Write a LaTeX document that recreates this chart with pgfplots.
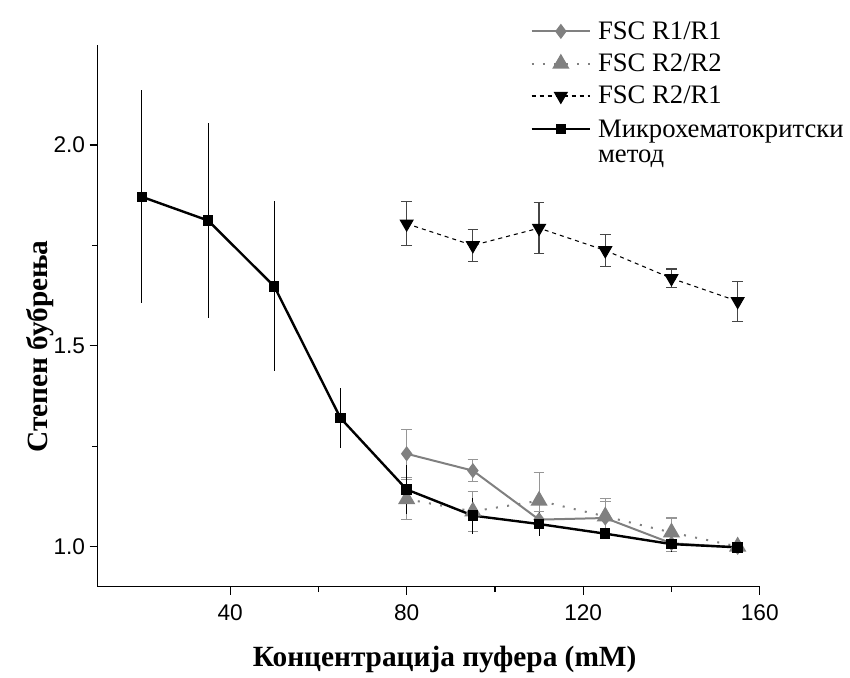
\documentclass[border=0pt]{standalone}
\usepackage{fontspec}
\setmainfont{Liberation Serif}
\newfontfamily\arial{Liberation Sans}
\usepackage{pgfplots}
\pgfplotsset{compat=1.18}
\definecolor{midGray}{RGB}{128,128,128}
\definecolor{barGray}{RGB}{150,150,150}
\definecolor{darkBar}{RGB}{70,70,70}

\begin{document}
\begin{tikzpicture}
  \begin{axis}[
      scale only axis,
      width=496.5pt, height=406.5pt,
      xmin=10, xmax=160, ymin=0.9, ymax=2.25,
      xtick={40,80,120,160}, minor x tick num=1,
      ytick={1,1.5,2}, minor y tick num=1,
      yticklabel style={/pgf/number format/.cd, fixed, fixed zerofill, precision=1},
      xticklabel style={yshift=-4pt},
      /pgf/number format/assume math mode=true,
      ticklabel style={font=\arial\fontsize{17}{17}\selectfont},
      axis lines=left,
      axis line style={-, line width=1.1pt},
      tick style={line width=0.9pt, black},
      tick align=outside,
      major tick length=6pt, minor tick length=4pt,
      xlabel={\bfseries Концентрација пуфера (mM)},
      ylabel={\bfseries Степен бубрења},
      label style={font=\fontsize{22}{24}\selectfont},
      x label style={at={(axis description cs:0.524,-0.135)}, anchor=center},
      y label style={at={(axis description cs:-0.087,0.443)}, anchor=center},
      clip=false,
      legend image code/.code={\draw[mark repeat=2,mark phase=2,#1] plot coordinates {(0pt,0pt)(22pt,0pt)(44pt,0pt)};},
      legend style={at={(rel axis cs:0.647,1.053)}, anchor=north west,
        draw=none, fill=none, font=\fontsize{20}{20}\selectfont,
        cells={anchor=west}, row sep=5.5pt, column sep=3pt},
      error bars/y dir=both, error bars/y explicit,
    ]
    % FSC R1/R1
    \addplot[midGray, line width=1.5pt, mark=diamond*, mark size=4.5pt,
      mark options={solid, fill=midGray},
      error bars/.cd, error bar style={barGray, line width=0.8pt},
      error mark options={rotate=90, mark size=4pt, barGray, line width=0.8pt}]
      coordinates {
        (80,1.231) +- (0,0.06)
        (95,1.189) +- (0,0.027)
        (110,1.067) +- (0,0.02)
        (125,1.071) +- (0,0.04)
        (140,1.008) +- (0,0.02)
        (155,0.998) +- (0,0.01)
      };
    \addlegendentry{FSC R1/R1}
    % FSC R2/R2
    \addplot[midGray, line width=1.5pt, dash pattern=on 1.5pt off 7pt,
      mark=triangle*, mark size=6pt, mark options={solid, fill=midGray},
      error bars/.cd, error bar style={barGray, line width=0.8pt, solid},
      error mark options={rotate=90, mark size=4pt, barGray, line width=0.8pt}]
      coordinates {
        (80,1.118) +- (0,0.05)
        (95,1.0875) +- (0,0.05)
        (110,1.114) +- (0,0.07)
        (125,1.075) +- (0,0.045)
        (140,1.035) +- (0,0.036)
        (155,1.0) +- (0,0.01)
      };
    \addlegendentry{FSC R2/R2}
    % FSC R2/R1
    \addplot[black, line width=0.8pt, dash pattern=on 3pt off 3pt,
      mark=triangle*, mark size=5.5pt, mark options={solid, fill=black, rotate=180},
      error bars/.cd, error bar style={darkBar, line width=0.9pt, solid},
      error mark options={rotate=90, mark size=4pt, darkBar, line width=0.9pt}]
      coordinates {
        (80,1.804) +- (0,0.055)
        (95,1.750) +- (0,0.04)
        (110,1.793) +- (0,0.063)
        (125,1.7375) +- (0,0.04)
        (140,1.668) +- (0,0.023)
        (155,1.611) +- (0,0.05)
      };
    \addlegendentry{FSC R2/R1}
    % Mikrohematokritski metod
    \addplot[black, line width=1.8pt, mark=square*, mark size=3pt,
      mark options={solid, fill=black},
      error bars/.cd, error bar style={black, line width=0.8pt},
      error mark=none]
      coordinates {
        (20,1.871) +- (0,0.265)
        (35,1.812) +- (0,0.244)
        (50,1.648) +- (0,0.212)
        (65,1.320) +- (0,0.075)
        (80,1.142) +- (0,0.06)
        (95,1.077) +- (0,0.045)
        (110,1.056) +- (0,0.03)
        (125,1.032) +- (0,0.01)
        (140,1.006) +- (0,0.02)
        (155,0.998) +- (0,0.01)
      };
    \addlegendentry{\raisebox{0pt}[\height][0pt]{\begin{tabular}[t]{@{}l@{}}Микрохематокритски\\[-1pt]метод\end{tabular}}}
  \end{axis}
  \pgfresetboundingbox
  \path[use as bounding box] (-73.3pt,-68.5pt) rectangle (564.2pt,440pt);
\end{tikzpicture}
\end{document}
